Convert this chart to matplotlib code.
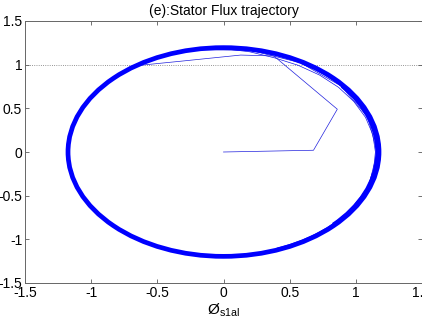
import matplotlib
matplotlib.use('Agg')
import matplotlib.pyplot as plt
from matplotlib.patches import Ellipse, Arc

matplotlib.rcParams['font.family'] = ['Liberation Sans', 'DejaVu Sans']
matplotlib.rcParams['mathtext.fontset'] = 'custom'
matplotlib.rcParams['mathtext.rm'] = 'Liberation Sans'

# steady-state orbit of the stator flux (centre and radii)
orbit_center = (0.0, 0.0)
orbit_rx = 1.175
orbit_ry = 1.195
# laps that settle slightly inside the orbit on the right (radius, from deg, to deg)
settle_rx = [1.165, 1.158]
settle_ry = [1.186, 1.180]
settle_from = [-70, -45]
settle_to = [60, 40]

# first laps, slightly inside the orbit on the upper right
lap1_x = [-0.204, 0.000, 0.199, 0.386, 0.564, 0.726, 0.869, 0.985, 1.073, 1.128,
          1.148, 1.134, 1.088, 1.007, 0.896, 0.755]
lap1_y = [1.177, 1.183, 1.147, 1.078, 0.993, 0.881, 0.741, 0.578, 0.397, 0.202,
          0.000, -0.203, -0.403, -0.592, -0.764, -0.915]
lap2_x = [-0.402, -0.203, 0.202, 0.580, 0.887, 1.089, 1.161, 1.095, 0.900]
lap2_y = [1.123, 1.171, 1.165, 1.023, 0.757, 0.403, 0.000, -0.405, -0.768]

# start-up transient
trans_x = [0.00, 0.68, 0.86, 0.38, 0.13, -0.32, -0.65]
trans_y = [0.00, 0.02, 0.49, 1.10, 1.11, 1.04, 0.99]

xticks = [-1.5, -1, -0.5, 0, 0.5, 1, 1.5]
xticklabels = ['-1.5', '-1', '-0.5', '0', '0.5', '1', '1.5']
yticks = [-1.5, -1, -0.5, 0, 0.5, 1, 1.5]
yticklabels = ['-1.5', '-1', '-0.5', '0', '0.5', '1', '1.5']

fig = plt.figure(figsize=(4.22, 3.23), dpi=100)
ax = fig.add_axes([25 / 422, 1 - 283 / 323, 397 / 422, 262 / 323])

ax.axhline(1, color='0.45', linestyle=':', linewidth=0.6, zorder=1)
ax.add_patch(Ellipse(orbit_center, 2 * orbit_rx, 2 * orbit_ry, fill=False,
                     edgecolor='#0000ff', linewidth=3.4, zorder=3))
for rx, ry, t1, t2 in zip(settle_rx, settle_ry, settle_from, settle_to):
    ax.add_patch(Arc(orbit_center, 2 * rx, 2 * ry, theta1=t1, theta2=t2,
                     edgecolor='#0000ff', linewidth=2.0, zorder=3))
ax.plot(lap1_x, lap1_y, color='#1515e8', linewidth=0.5, zorder=2)
ax.plot(lap2_x, lap2_y, color='#1515e8', linewidth=0.5, zorder=2)
ax.plot(trans_x, trans_y, color='#2020dd', linewidth=0.5, zorder=2)

ax.set_xlim(-1.5, 1.5)
ax.set_ylim(-1.5, 1.5)
ax.set_xticks(xticks)
ax.set_xticklabels(xticklabels)
ax.set_yticks(yticks)
ax.set_yticklabels(yticklabels)
ax.tick_params(direction='in', length=3, width=0.6, color='0.35', labelsize=10,
               top=True, right=True, pad=2)
for s in ax.spines.values():
    s.set_color('0.4')
    s.set_linewidth(0.7)

ax.set_title('(e):Stator Flux trajectory', fontsize=10, pad=4)
ax.set_xlabel(r'Ø$_{\mathrm{s1al}}$', fontsize=11, labelpad=1)

fig.savefig('out.png', dpi=100)
